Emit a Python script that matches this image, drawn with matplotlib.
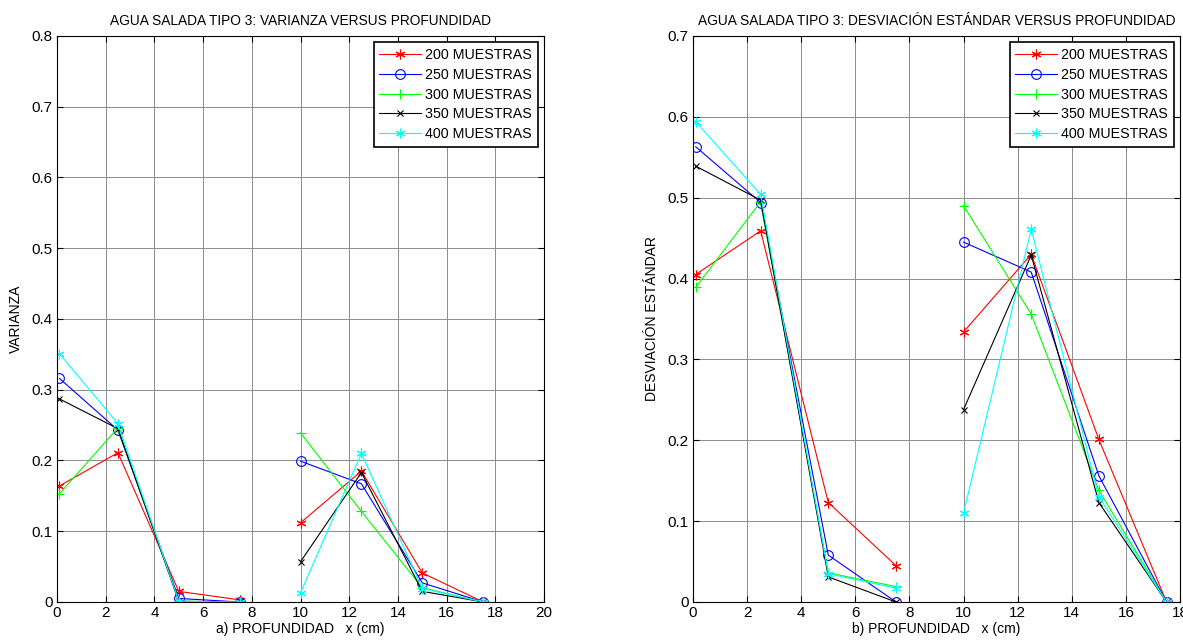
import numpy as np
import matplotlib
matplotlib.use("Agg")
import matplotlib.pyplot as plt

plt.rcParams['font.family'] = ['Liberation Sans', 'DejaVu Sans']

nan = np.nan
depth = [0.1, 2.5, 5.0, 7.5, nan, 10.0, 12.5, 15.0, 17.5]
labels = ['200 MUESTRAS', '250 MUESTRAS', '300 MUESTRAS', '350 MUESTRAS', '400 MUESTRAS']

var_200 = [0.164, 0.211, 0.015, 0.003, nan, 0.112, 0.185, 0.041, 0.0]
var_250 = [0.316, 0.243, 0.005, 0.0, nan, 0.199, 0.167, 0.027, 0.0]
var_300 = [0.153, 0.246, 0.001, 0.0, nan, 0.239, 0.128, 0.020, 0.0]
var_350 = [0.287, 0.245, 0.001, 0.0, nan, 0.057, 0.183, 0.015, 0.0]
var_400 = [0.351, 0.252, 0.001, 0.0, nan, 0.013, 0.210, 0.019, 0.0]

std_200 = [0.405, 0.459, 0.123, 0.045, nan, 0.334, 0.430, 0.201, 0.0]
std_250 = [0.563, 0.494, 0.058, 0.0, nan, 0.445, 0.408, 0.156, 0.0]
std_300 = [0.389, 0.495, 0.036, 0.019, nan, 0.490, 0.356, 0.138, 0.0]
std_350 = [0.539, 0.497, 0.031, 0.0, nan, 0.238, 0.429, 0.123, 0.0]
std_400 = [0.594, 0.504, 0.035, 0.017, nan, 0.110, 0.461, 0.130, 0.0]

colors = ['#ff0000', '#0000ff', '#00ff00', '#000000', '#00ffff']
markers = [(6, 2, 0), 'o', '+', 'x', (6, 2, 0)]
msizes = [7, 7, 7, 4.5, 7]

fig = plt.figure(figsize=(11.83, 6.40), dpi=100)
ax1 = fig.add_axes([0.0482, 0.0594, 0.4117, 0.8844])
ax2 = fig.add_axes([0.5858, 0.0594, 0.4117, 0.8844])


def draw(ax, series, xmax, ymax, title, xlabel, ylabel):
    for ys, c, m, ms, lab in zip(series, colors, markers, msizes, labels):
        ax.plot(depth, ys, color=c, marker=m, markersize=ms, lw=0.8,
                markerfacecolor='none', markeredgecolor=c, markeredgewidth=0.8,
                label=lab)
    ax.set_xlim(0, xmax)
    ax.set_ylim(0, ymax)
    ax.set_xticks(np.arange(0, xmax + 1, 2))
    ax.set_yticks(np.round(np.arange(0, ymax + 0.05, 0.1), 1))
    ax.set_yticklabels(['0'] + ['%.1f' % v for v in np.arange(0.1, ymax + 0.05, 0.1)])
    ax.grid(True, color='#8c8c8c', lw=0.7, ls='-')
    ax.set_axisbelow(True)
    ax.tick_params(direction='in', top=True, right=True, labelsize=11,
                   length=4, width=0.8, pad=3)
    for s in ax.spines.values():
        s.set_linewidth(0.8)
    ax.set_title(title, fontsize=9.9, pad=8)
    ax.set_xlabel(xlabel, fontsize=10, labelpad=1)
    ax.set_ylabel(ylabel, fontsize=10, labelpad=6)
    leg = ax.legend(loc='upper right', fontsize=10.3, fancybox=False,
                    framealpha=1, edgecolor='black', handlelength=2.9,
                    borderaxespad=0.45, labelspacing=0.4, handletextpad=0.3,
                    borderpad=0.4)
    leg.get_frame().set_linewidth(1.2)


draw(ax1, [var_200, var_250, var_300, var_350, var_400], 20, 0.8,
     'AGUA SALADA TIPO 3: VARIANZA VERSUS PROFUNDIDAD',
     'a) PROFUNDIDAD   x (cm)', 'VARIANZA')
draw(ax2, [std_200, std_250, std_300, std_350, std_400], 18, 0.7,
     'AGUA SALADA TIPO 3: DESVIACIÓN ESTÁNDAR VERSUS PROFUNDIDAD',
     'b) PROFUNDIDAD   x (cm)', 'DESVIACIÓN ESTÁNDAR')

fig.savefig('out.png', dpi=100)
